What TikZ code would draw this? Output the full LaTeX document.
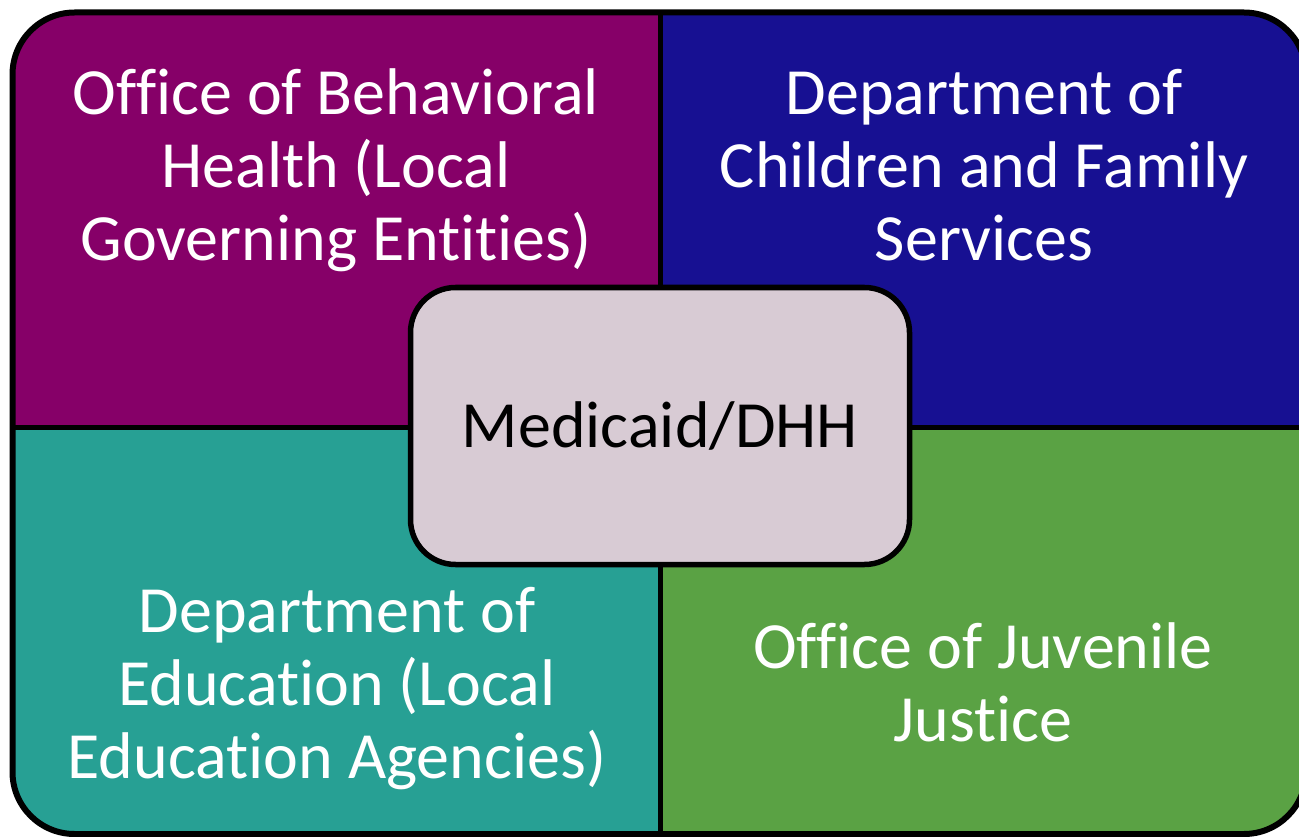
\documentclass[tikz,border=0pt]{standalone}
\usepackage{fontspec}
\setmainfont[Ligatures=NoCommon]{Carlito}
\usepackage{xcolor}
\usepackage{tikz}
\usetikzlibrary{positioning}

\definecolor{ohbpurple}{RGB}{134,0,104}
\definecolor{dcfsblue}{RGB}{23,16,146}
\definecolor{doeteal}{RGB}{39,160,148}
\definecolor{ojjgreen}{RGB}{90,162,68}
\definecolor{hubgrey}{RGB}{216,203,212}

\begin{document}
\begin{tikzpicture}[
  x=1pt,
  y=-1pt,
  every node/.style={font=\fontsize{66}{73}\selectfont},
  agency/.style={
    align=center,
    text=white,
    anchor=base
  },
  hub/.style={
    draw,
    line width=5.5pt,
    rounded corners=45pt,
    fill=hubgrey,
    minimum width=499pt,
    minimum height=277pt
  },
  frame/.style={line width=6pt, rounded corners=62pt},
  divider/.style={line width=5pt}
]
\useasboundingbox (0,0) rectangle (1299,837);

% four coloured quarters inside the rounded frame
\begin{scope}
  \clip[rounded corners=62pt] (12.5,12.5) rectangle (1306,834);
  \fill[ohbpurple] (0,0) rectangle (660,427);
  \fill[dcfsblue] (660,0) rectangle (1310,427);
  \fill[doeteal] (0,427) rectangle (660,840);
  \fill[ojjgreen] (660,427) rectangle (1310,840);
\end{scope}
\draw[frame] (12.5,12.5) rectangle (1306,834);
\draw[divider] (660,12.5) -- (660,834)
               (12.5,427) -- (1306,427);

% base of each label sits on its last line
\node[agency] (bh) at (336,261) {Office of Behavioral\\Health (Local\\Governing Entities)};
\node[agency] (dcfs) at (984,261) {Department of\\Children and Family\\Services};
\node[agency] (doe) at (337,778) {Department of\\Education (Local\\Education Agencies)};
\node[agency] (ojj) at (983,741) {Office of Juvenile\\Justice};

\node[hub] (medicaid) at (660,426) {Medicaid/DHH};
\end{tikzpicture}
\end{document}
